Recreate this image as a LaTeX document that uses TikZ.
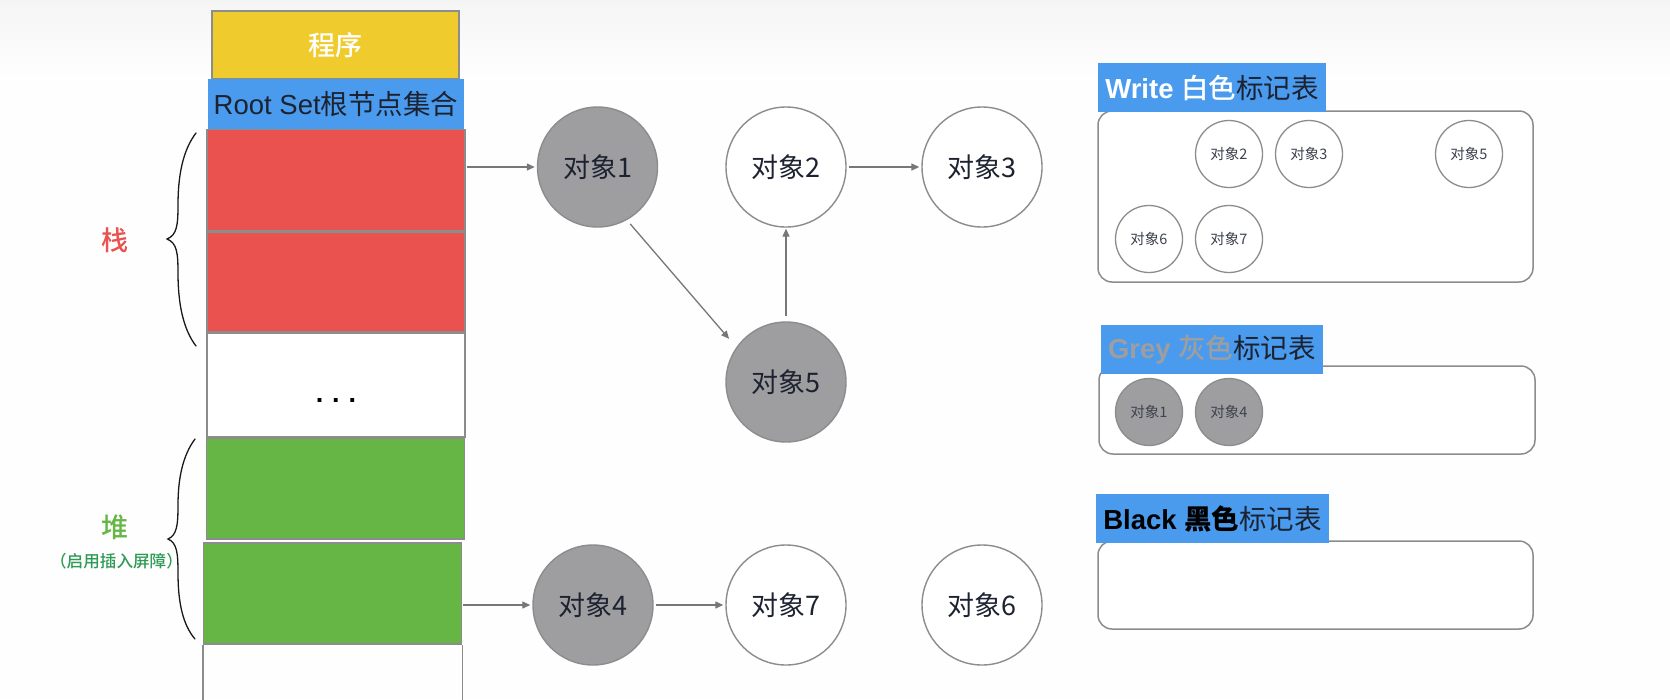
\documentclass[tikz,border=0pt]{standalone}
\usepackage{fontspec}
\setmainfont{Liberation Sans}
\newfontfamily\cjk{Noto Sans CJK SC}
\newfontfamily\cjkm{Noto Sans CJK SC Medium}
\usetikzlibrary{arrows.meta,calc}
\definecolor{cblue}{HTML}{4A9BEE}
\definecolor{cred}{HTML}{E9524F}
\definecolor{cgreen}{HTML}{66B646}
\definecolor{cyellow}{HTML}{F0CB2E}
\definecolor{cgrey}{HTML}{9E9EA0}
\definecolor{cline}{HTML}{8C8C8C}
\definecolor{cink}{HTML}{1C2230}
\definecolor{cdkgreen}{HTML}{2F9A55}
\newcommand{\fs}[1]{\fontsize{#1}{#1}\selectfont}
\tikzset{
  x=1pt,y=-1pt,
  block/.style={draw=cline,line width=1.6pt,inner sep=0pt,align=center},
  obj/.style={circle,draw=cline,line width=1.4pt,minimum size=120pt,inner sep=0pt,font=\fs{27}\cjk,text=cink},
  objsmall/.style={circle,draw=cline,line width=1.3pt,minimum size=67pt,inner sep=0pt,font=\fs{14.5}\cjk,text=cink!85},
  white obj/.style={fill=white},
  grey obj/.style={fill=cgrey},
  panel/.style={draw=cline,line width=1.5pt,rounded corners=14pt,fill=white,inner sep=0pt},
  title/.style={fill=cblue,inner sep=0pt,font=\fs{27.5},text=cink},
  conn/.style={draw=cline!85!black,line width=1.3pt,-{Triangle[length=8pt,width=7pt]}},
  bracel/.style={draw=black!90,line width=1.3pt,line cap=round},
}
\begin{document}
\begin{tikzpicture}
\useasboundingbox (0,0) rectangle (1670,699);
\fill[white!99.5!black] (0,0) rectangle (1670,699);
\shade[top color=black!4,bottom color=white!99.5!black] (0,0) rectangle (1670,75);

% stack column
\node[block,fill=cyellow,minimum width=247pt,minimum height=68pt,text=white,font=\fs{27}\cjkm] (prog) at (335.5,45) {程序};
\node[fill=cblue,inner sep=0pt,minimum width=256pt,minimum height=50pt,font=\fs{27.5},text=cink] (root) at (336,104) {Root Set{\cjk 根节点集合}};
\node[block,fill=cred,minimum width=258pt,minimum height=101pt] (red1) at (336,180) {};
\node[block,fill=cred,minimum width=258pt,minimum height=100pt] (red2) at (336,282) {};
\node[block,fill=white,minimum width=258pt,minimum height=104pt] (dots) at (336,385) {};
\node[font=\fs{27}\bfseries,inner sep=0pt,anchor=base] (dotstext) at (336,402) {.\kern9pt.\kern9pt.};
\node[block,fill=cgreen,minimum width=258pt,minimum height=101pt] (green1) at (335.5,488.5) {};
\node[block,fill=cgreen,minimum width=258pt,minimum height=101pt] (green2) at (332.5,593.5) {};
\draw[cline,line width=1.6pt] (green2.south west) -- ++(0,56);
\draw[cline,line width=1.6pt] (green2.south east) -- ++(0,56);

% braces
\draw[bracel] (196,133) .. controls (183,150) and (178,175) .. (178,205)
  .. controls (178,225) and (177,235) .. (167,239)
  .. controls (177,243) and (178,253) .. (178,273)
  .. controls (178,303) and (183,329) .. (196,346);
\draw[bracel] (195,439) .. controls (183,455) and (178,478) .. (178,505)
  .. controls (178,525) and (177,535) .. (168,539)
  .. controls (177,543) and (178,553) .. (178,573)
  .. controls (178,603) and (183,625) .. (195,639);
\node[font=\fs{27}\cjkm,text=cred,inner sep=0pt] (stacklabel) at (115,240) {栈};
\node[font=\fs{27}\cjkm,text=cgreen,inner sep=0pt] (heaplabel) at (115,527) {堆};
\node[font=\fs{16.6}\cjkm,text=cdkgreen,inner sep=0pt] (heapnote) at (116.5,561) {（启用插入屏障）};

% objects
\node[obj,grey obj] (o1) at (597.5,167) {对象1};
\node[obj,white obj] (o2) at (786,167) {对象2};
\node[obj,white obj] (o3) at (982,167) {对象3};
\node[obj,grey obj] (o5) at (786,382) {对象5};
\node[obj,grey obj] (o4) at (593,605) {对象4};
\node[obj,white obj] (o7) at (786,605) {对象7};
\node[obj,white obj] (o6) at (982,605) {对象6};

% connectors
\draw[conn,shorten >=2pt,shorten <=1pt] (red1.east |- o1) -- (o1);
\draw[conn,shorten >=11pt,shorten <=5pt] (o1.-61) -- (o5.145);
\draw[conn,shorten >=1pt,shorten <=5pt] (o5) -- (o2);
\draw[conn,shorten >=2pt,shorten <=2pt] (o2) -- (o3);
\draw[conn,shorten >=2pt,shorten <=1pt] (green2.east |- o4) -- (o4);
\draw[conn,shorten >=2pt,shorten <=2pt] (o4) -- (o7);

% write panel
\node[panel,minimum width=435pt,minimum height=171pt] (pw) at (1315.5,196.5) {};
\node[title,minimum width=228pt,minimum height=49pt] (tw) at (1212,87.5) {\textcolor{white}{{\bfseries Write }{\cjkm 白色}}{\cjk 标记表}};
\node[objsmall,white obj] (w2) at (1229,154) {对象2};
\node[objsmall,white obj] (w3) at (1309,154) {对象3};
\node[objsmall,white obj] (w5) at (1469,154) {对象5};
\node[objsmall,white obj] (w6) at (1149,239) {对象6};
\node[objsmall,white obj] (w7) at (1229,239) {对象7};

% grey panel
\node[panel,minimum width=436pt,minimum height=88pt] (pg) at (1317,410) {};
\node[title,minimum width=222pt,minimum height=49pt] (tg) at (1212,349.5) {\textcolor{cgrey}{{\bfseries Grey }{\cjkm 灰色}}{\cjk 标记表}};
\node[objsmall,grey obj] (g1) at (1149,412) {对象1};
\node[objsmall,grey obj] (g4) at (1229,412) {对象4};

% black panel
\node[panel,minimum width=435pt,minimum height=88pt] (pb) at (1315.5,585) {};
\node[title,minimum width=233pt,minimum height=49pt] (tb) at (1212.5,518.5) {{\bfseries\textcolor{black}{Black {\cjkm 黑色}}}{\cjk 标记表}};
\end{tikzpicture}
\end{document}
